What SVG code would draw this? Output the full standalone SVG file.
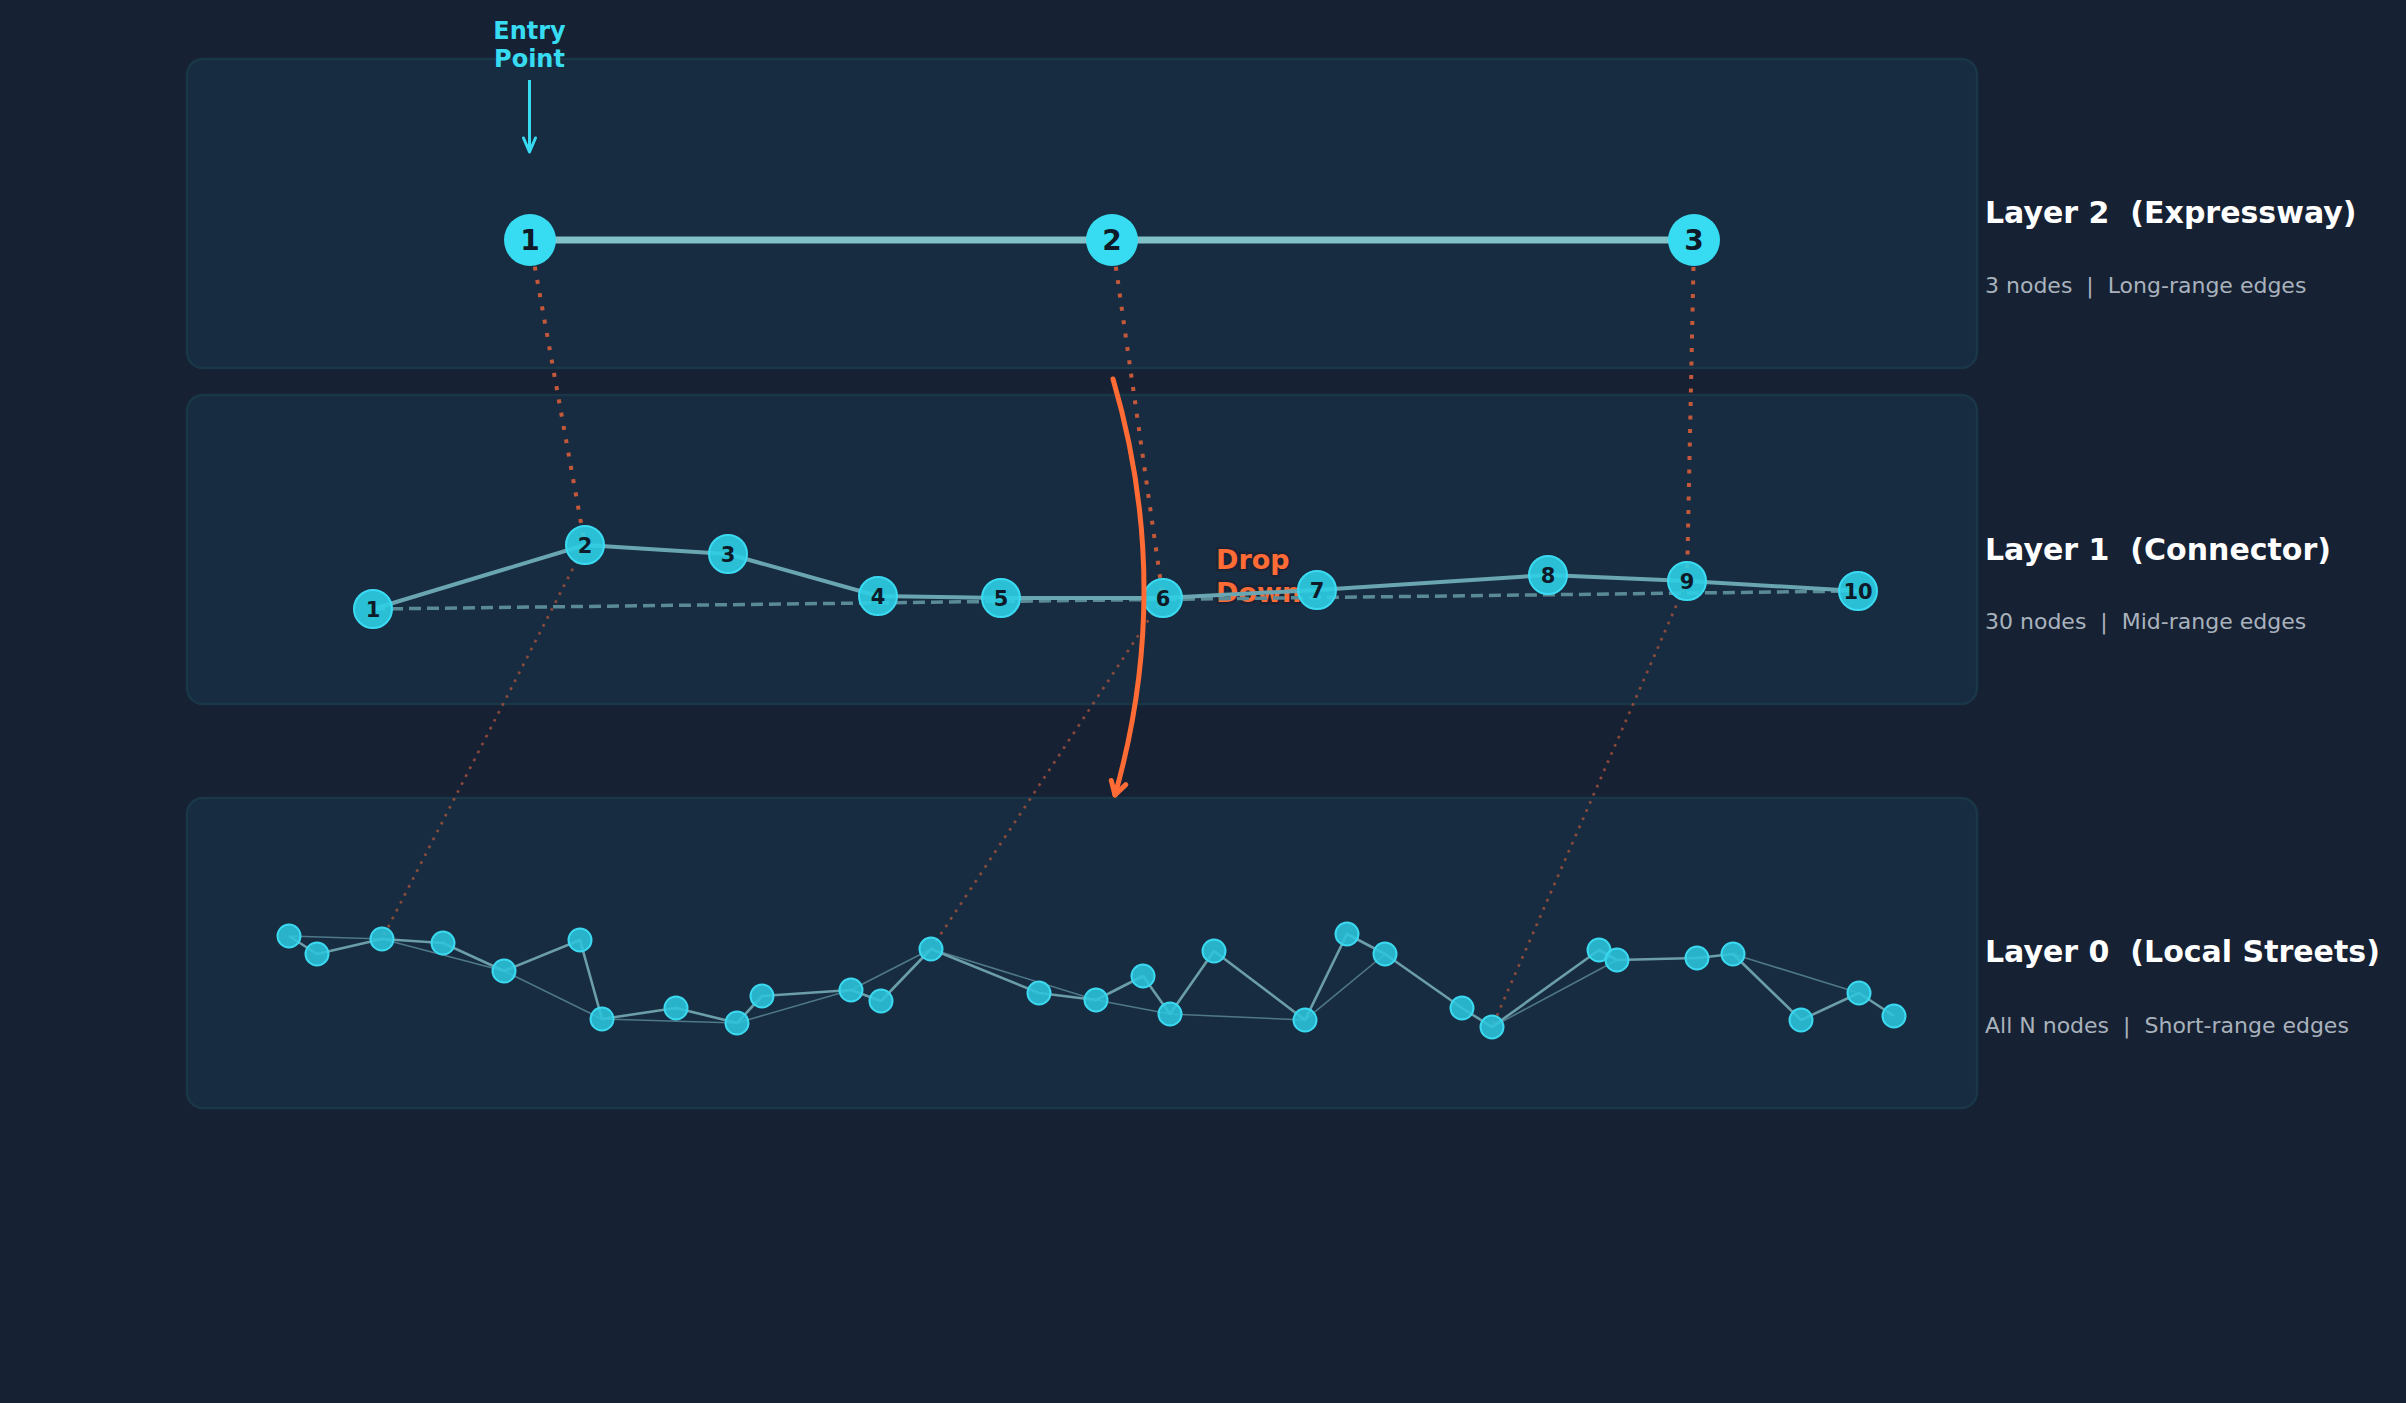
<svg xmlns="http://www.w3.org/2000/svg" width="2406" height="1403" viewBox="0 0 2406 1403">
<style>
text{font-family:"DejaVu Sans","Liberation Sans",sans-serif;white-space:pre}
.panel{fill:#172c40;stroke:#1a3748;stroke-width:2.5}
.title{font-size:30px;font-weight:bold;fill:#ffffff}
.sub{font-size:22px;fill:#a9b2bc}
.drop12{fill:none;stroke:#c4583a;stroke-width:4;stroke-dasharray:4 9.5}
.drop01{fill:none;stroke:#b0553c;stroke-opacity:0.75;stroke-width:2.7;stroke-dasharray:2.7 6.2}
.e2{stroke:#80c1ca;stroke-width:7}
.e1{fill:none;stroke:#6aa6b1;stroke-width:4;stroke-linejoin:round}
.e1d{stroke:#5b8a97;stroke-width:3.5;stroke-dasharray:12 6}
.e0{stroke:#6b9ea9;stroke-width:2.6}
.e0t{stroke:#4f7888;stroke-width:1.6}
.n2{fill:#38dcf2}
.n1{fill:#2dcfe6;fill-opacity:0.9;stroke:#3adbf2;stroke-width:2}
.n0{fill:#2cc6dd;fill-opacity:0.88;stroke:#3bd9f0;stroke-width:2}
.lab2{font-size:28px;font-weight:bold;fill:#0e1a28;text-anchor:middle}
.lab1{font-size:21px;font-weight:bold;fill:#0e1a28;text-anchor:middle}
.orange{fill:none;stroke:#ff6b35;stroke-width:5;stroke-linecap:round;stroke-linejoin:round}
</style>
<rect width="2406" height="1403" fill="#162134"/>
<g id="panels">
<rect id="panel-layer2" class="panel" x="187" y="59" width="1790" height="309" rx="16"/>
<rect id="panel-layer1" class="panel" x="187" y="395" width="1790" height="309" rx="16"/>
<rect id="panel-layer0" class="panel" x="187" y="798" width="1790" height="310" rx="16"/>
</g>
<g id="layer-labels">
<text class="title" x="1985" y="223" xml:space="preserve">Layer 2  (Expressway)</text>
<text class="sub" x="1985" y="293" xml:space="preserve">3 nodes  |  Long-range edges</text>
<text class="title" x="1985" y="560" xml:space="preserve">Layer 1  (Connector)</text>
<text class="sub" x="1985" y="629" xml:space="preserve">30 nodes  |  Mid-range edges</text>
<text class="title" x="1985" y="962" xml:space="preserve">Layer 0  (Local Streets)</text>
<text class="sub" x="1985" y="1033" xml:space="preserve">All N nodes  |  Short-range edges</text>
</g>
<g id="connectors">
<g id="drop-links">
<line class="drop12" x1="530" y1="240" x2="585" y2="545"/>
<line class="drop12" x1="1112" y1="240" x2="1163" y2="598"/>
<line class="drop12" x1="1694" y1="240" x2="1687" y2="581"/>
<line class="drop01" x1="585" y1="545" x2="382" y2="939"/>
<line class="drop01" x1="1163" y1="598" x2="931" y2="949"/>
<line class="drop01" x1="1687" y1="581" x2="1492" y2="1027"/>
</g>
<g id="layer2-edges">
<line class="e2" x1="530" y1="240" x2="1112" y2="240"/>
<line class="e2" x1="1112" y1="240" x2="1694" y2="240"/>
</g>
</g>
<g id="drop-down-label">
<text x="1216" y="569" font-size="27" font-weight="bold" fill="#ff6b35" stroke="#1a2436" stroke-width="5" stroke-linejoin="round" paint-order="stroke">Drop</text>
<text x="1216" y="602" font-size="27" font-weight="bold" fill="#ff6b35" stroke="#1a2436" stroke-width="5" stroke-linejoin="round" paint-order="stroke">Down</text>
</g>
<g id="connectors-layers">
<g id="layer1-edges">
<line class="e1d" x1="373" y1="609" x2="1858" y2="591"/>
<polyline class="e1" points="373,609 585,545 728,554 878,596 1001,598 1163,598 1317,590 1548,575 1687,581 1858,591"/>
</g>
<g id="layer0-edges">
<line class="e0t" x1="289" y1="936" x2="382" y2="939"/>
<line class="e0t" x1="382" y1="939" x2="504" y2="971"/>
<line class="e0t" x1="504" y1="971" x2="602" y2="1019"/>
<line class="e0t" x1="602" y1="1019" x2="737" y2="1023"/>
<line class="e0t" x1="737" y1="1023" x2="851" y2="990"/>
<line class="e0t" x1="851" y1="990" x2="931" y2="949"/>
<line class="e0t" x1="931" y1="949" x2="1096" y2="1000"/>
<line class="e0t" x1="1096" y1="1000" x2="1170" y2="1014"/>
<line class="e0t" x1="1170" y1="1014" x2="1305" y2="1020"/>
<line class="e0t" x1="1305" y1="1020" x2="1385" y2="954"/>
<line class="e0t" x1="1492" y1="1027" x2="1617" y2="960"/>
<line class="e0t" x1="1733" y1="954" x2="1859" y2="993"/>
<polyline class="e0" fill="none" stroke-linejoin="round" points="289,936 317,954 382,939 443,943 504,971 580,940 602,1019 676,1008 737,1023 762,996 851,990 881,1001 931,949 1039,993 1096,1000 1143,976 1170,1014 1214,951 1305,1020 1347,934 1385,954 1462,1008 1492,1027 1599,950 1617,960 1697,958 1733,954 1801,1020 1859,993 1894,1016"/>
</g>
</g>
<g id="layer2-nodes">
<g id="l2-n1"><circle class="n2" cx="530" cy="240" r="26"/><text class="lab2" x="530" y="250">1</text></g>
<g id="l2-n2"><circle class="n2" cx="1112" cy="240" r="26"/><text class="lab2" x="1112" y="250">2</text></g>
<g id="l2-n3"><circle class="n2" cx="1694" cy="240" r="26"/><text class="lab2" x="1694" y="250">3</text></g>
</g>
<g id="layer1-nodes">
<g id="l1-n1"><circle class="n1" cx="373" cy="609" r="19"/><text class="lab1" x="373" y="616.5">1</text></g>
<g id="l1-n2"><circle class="n1" cx="585" cy="545" r="19"/><text class="lab1" x="585" y="552.5">2</text></g>
<g id="l1-n3"><circle class="n1" cx="728" cy="554" r="19"/><text class="lab1" x="728" y="561.5">3</text></g>
<g id="l1-n4"><circle class="n1" cx="878" cy="596" r="19"/><text class="lab1" x="878" y="603.5">4</text></g>
<g id="l1-n5"><circle class="n1" cx="1001" cy="598" r="19"/><text class="lab1" x="1001" y="605.5">5</text></g>
<g id="l1-n6"><circle class="n1" cx="1163" cy="598" r="19"/><text class="lab1" x="1163" y="605.5">6</text></g>
<g id="l1-n7"><circle class="n1" cx="1317" cy="590" r="19"/><text class="lab1" x="1317" y="597.5">7</text></g>
<g id="l1-n8"><circle class="n1" cx="1548" cy="575" r="19"/><text class="lab1" x="1548" y="582.5">8</text></g>
<g id="l1-n9"><circle class="n1" cx="1687" cy="581" r="19"/><text class="lab1" x="1687" y="588.5">9</text></g>
<g id="l1-n10"><circle class="n1" cx="1858" cy="591" r="19"/><text class="lab1" x="1858" y="598.5">10</text></g>
</g>
<g id="layer0-nodes">
<circle id="l0-n1" class="n0" cx="289" cy="936" r="11.5"/>
<circle id="l0-n2" class="n0" cx="317" cy="954" r="11.5"/>
<circle id="l0-n3" class="n0" cx="382" cy="939" r="11.5"/>
<circle id="l0-n4" class="n0" cx="443" cy="943" r="11.5"/>
<circle id="l0-n5" class="n0" cx="504" cy="971" r="11.5"/>
<circle id="l0-n6" class="n0" cx="580" cy="940" r="11.5"/>
<circle id="l0-n7" class="n0" cx="602" cy="1019" r="11.5"/>
<circle id="l0-n8" class="n0" cx="676" cy="1008" r="11.5"/>
<circle id="l0-n9" class="n0" cx="737" cy="1023" r="11.5"/>
<circle id="l0-n10" class="n0" cx="762" cy="996" r="11.5"/>
<circle id="l0-n11" class="n0" cx="851" cy="990" r="11.5"/>
<circle id="l0-n12" class="n0" cx="881" cy="1001" r="11.5"/>
<circle id="l0-n13" class="n0" cx="931" cy="949" r="11.5"/>
<circle id="l0-n14" class="n0" cx="1039" cy="993" r="11.5"/>
<circle id="l0-n15" class="n0" cx="1096" cy="1000" r="11.5"/>
<circle id="l0-n16" class="n0" cx="1143" cy="976" r="11.5"/>
<circle id="l0-n17" class="n0" cx="1170" cy="1014" r="11.5"/>
<circle id="l0-n18" class="n0" cx="1214" cy="951" r="11.5"/>
<circle id="l0-n19" class="n0" cx="1305" cy="1020" r="11.5"/>
<circle id="l0-n20" class="n0" cx="1347" cy="934" r="11.5"/>
<circle id="l0-n21" class="n0" cx="1385" cy="954" r="11.5"/>
<circle id="l0-n22" class="n0" cx="1462" cy="1008" r="11.5"/>
<circle id="l0-n23" class="n0" cx="1492" cy="1027" r="11.5"/>
<circle id="l0-n24" class="n0" cx="1599" cy="950" r="11.5"/>
<circle id="l0-n25" class="n0" cx="1617" cy="960" r="11.5"/>
<circle id="l0-n26" class="n0" cx="1697" cy="958" r="11.5"/>
<circle id="l0-n27" class="n0" cx="1733" cy="954" r="11.5"/>
<circle id="l0-n28" class="n0" cx="1801" cy="1020" r="11.5"/>
<circle id="l0-n29" class="n0" cx="1859" cy="993" r="11.5"/>
<circle id="l0-n30" class="n0" cx="1894" cy="1016" r="11.5"/>
</g>
<g id="drop-arrow">
<path class="orange" d="M1113,379 Q1174,587 1115,795"/>
<path class="orange" d="M1111.3,780.5 L1115,795 L1125.8,784.6"/>
</g>
<g id="entry-point">
<text x="529.5" y="39" font-size="24" font-weight="bold" fill="#38dcf2" text-anchor="middle">Entry</text>
<text x="529.5" y="67" font-size="24" font-weight="bold" fill="#38dcf2" text-anchor="middle">Point</text>
<line x1="529.5" y1="80" x2="529.5" y2="151" stroke="#38dcf2" stroke-width="3"/>
<path d="M523.5,138 L529.5,152 L535.5,138" fill="none" stroke="#38dcf2" stroke-width="3" stroke-linejoin="round" stroke-linecap="round"/>
</g>
</svg>
